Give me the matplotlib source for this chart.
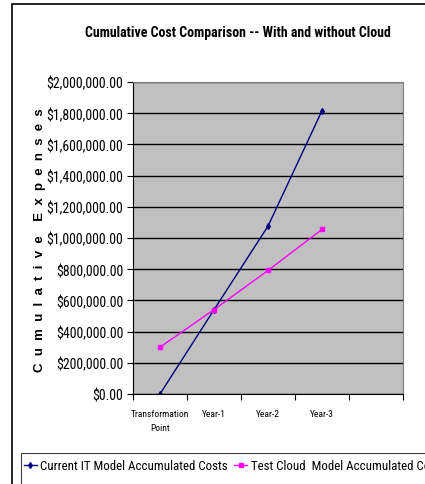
import matplotlib.pyplot as plt
import matplotlib.patches as mpatches
from matplotlib.ticker import FuncFormatter, FixedLocator

# categories along x (last slot is empty in the original chart)
categories = ["Transformation\nPoint", "Year-1", "Year-2", "Year-3", ""]
current_it = [0, 540000, 1076000, 1816000]
test_cloud = [300000, 541000, 792000, 1055000]
y_ticks = list(range(0, 2000001, 200000))

# narrow font to mimic the Arial Narrow look of the original
plt.rcParams['font.family'] = ['Roboto Condensed', 'Liberation Sans', 'DejaVu Sans']

fig = plt.figure(figsize=(4.25, 4.85), dpi=100)

# outer chart border (right and bottom run off the image)
fig.patches.append(mpatches.Rectangle((12 / 425, -0.1), 1.2, 1 - 5 / 485 + 0.1,
                                      transform=fig.transFigure, fill=False,
                                      edgecolor='black', linewidth=1.2))
# legend box, also running off the image
fig.patches.append(mpatches.Rectangle((21 / 425, -0.1), 1.2, 0.1 + 1 - 454 / 485,
                                      transform=fig.transFigure, fill=False,
                                      edgecolor='#404040', linewidth=0.8))

ax = fig.add_axes([133 / 425, 90 / 485, 270 / 425, 312 / 485])
ax.set_facecolor('#C0C0C0')

x = list(range(len(current_it)))
line1, = ax.plot(x, current_it, color='#000080', linewidth=1, marker='d',
                 markersize=3, label='Current IT Model Accumulated Costs')
line2, = ax.plot(x, test_cloud, color='#FF00FF', linewidth=1, marker='s',
                 markersize=3, label='Test Cloud  Model Accumulated Costs')

ax.set_xlim(-0.5, len(categories) - 0.5)
ax.set_ylim(0, 2000000)
ax.set_yticks(y_ticks)
ax.yaxis.set_major_formatter(FuncFormatter(lambda v, p: f"${v:,.2f}"))
ax.tick_params(axis='y', labelsize=10, length=4, width=0.8, direction='out', pad=3)
ax.grid(axis='y', color='black', linewidth=1)
ax.set_axisbelow(True)

# category boundaries as ticks, labels centred in each slot
ax.xaxis.set_major_locator(FixedLocator([i - 0.5 for i in range(len(categories) + 1)]))
ax.xaxis.set_major_formatter(FuncFormatter(lambda v, p: ""))
ax.xaxis.set_minor_locator(FixedLocator(list(range(len(categories)))))
ax.set_xticklabels(categories, minor=True, linespacing=1.7)
ax.tick_params(axis='x', which='minor', length=0, labelsize=6.8, pad=11)
ax.tick_params(axis='x', which='major', length=4, width=0.8, direction='out')

for side in ['top', 'right']:
    ax.spines[side].set_color('#808080')
    ax.spines[side].set_linewidth(0.8)
ax.spines['left'].set_linewidth(0.8)
ax.spines['bottom'].set_linewidth(0.8)

fig.text(238 / 425, 1 - 33 / 485, "Cumulative Cost Comparison -- With and without Cloud",
         ha='center', va='center', fontsize=10, fontweight='bold')

ylab = "  ".join("Cumulative") + "    " + "  ".join("Expenses")
fig.text(40 / 425, 1 - 240 / 485, ylab, family=['Liberation Sans', 'DejaVu Sans'],
         ha='center', va='center', rotation=90, fontsize=9.5, fontweight='bold')

leg = fig.legend(handles=[line1, line2], loc='center left',
                 bbox_to_anchor=(21 / 425, 1 - 467 / 485), ncol=2,
                 fontsize=9.3, frameon=False,
                 borderaxespad=0, handlelength=1.0, handletextpad=0.3,
                 columnspacing=0.5, borderpad=0.2)

fig.savefig('out.png', dpi=100)
